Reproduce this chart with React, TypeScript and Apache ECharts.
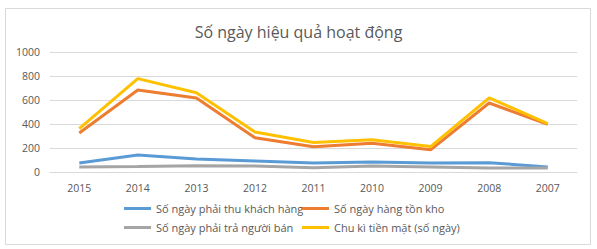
import React, { useEffect, useRef } from "react";
import * as echarts from "echarts";

const years = ["2015", "2014", "2013", "2012", "2011", "2010", "2009", "2008", "2007"];
const receivableDays = [75, 142, 108, 92, 75, 83, 75, 78, 42];
const inventoryDays = [325, 683, 617, 285, 210, 240, 185, 575, 398];
const payableDays = [42, 45, 52, 50, 35, 50, 42, 33, 33];
const cashCycleDays = [362, 778, 660, 333, 245, 268, 212, 618, 404];

const seriesNames = [
  "Số ngày phải thu khách hàng",
  "Số ngày hàng tồn kho",
  "Số ngày phải trả người bán",
  "Chu kì tiền mặt (số ngày)",
];
const colors = ["#5B9BD5", "#ED7D31", "#A5A5A5", "#FFC000"];
const yTicks = { min: 0, max: 1000, interval: 200 };

export default function App() {
  const ref = useRef<HTMLDivElement>(null);
  useEffect(() => {
    if (!ref.current) return;
    const chart = echarts.init(ref.current, null, { renderer: "svg" });
    const data = [receivableDays, inventoryDays, payableDays, cashCycleDays];
    const legendPos = [
      { left: 124, top: 203 },
      { left: 302, top: 203 },
      { left: 124, top: 222 },
      { left: 302, top: 222 },
    ];
    chart.setOption({
      animation: false,
      textStyle: { fontFamily: "'Open Sans', 'Noto Sans', sans-serif" },
      title: {
        text: "Số ngày hiệu quả hoạt động",
        left: "center",
        top: 19,
        textStyle: { fontSize: 16, fontWeight: "normal", color: "#595959" },
      },
      graphic: [
        {
          type: "rect",
          shape: { x: 5.5, y: 8.5, width: 585, height: 236 },
          style: { fill: "none", stroke: "#d9d9d9", lineWidth: 1 },
          silent: true,
        },
      ],
      legend: legendPos.map((p, i) => ({
        data: [seriesNames[i]],
        left: p.left,
        top: p.top,
        padding: 0,
        icon: "rect",
        itemWidth: 27,
        itemHeight: 3,
        itemGap: 0,
        textStyle: { fontSize: 11, color: "#595959" },
      })),
      grid: { left: 50, right: 20, top: 52, bottom: 77 },
      xAxis: {
        type: "category",
        data: years,
        boundaryGap: true,
        axisLine: { lineStyle: { color: "#d9d9d9" } },
        axisTick: { show: false },
        axisLabel: { color: "#595959", fontSize: 10.5, margin: 10 },
      },
      yAxis: {
        type: "value",
        min: yTicks.min,
        max: yTicks.max,
        interval: yTicks.interval,
        axisLine: { show: false },
        axisTick: { show: false },
        axisLabel: {
          color: "#595959",
          fontSize: 10.5,
          margin: 10,
          formatter: (v: number) => String(v),
        },
        splitLine: { lineStyle: { color: "#d9d9d9" } },
      },
      series: data.map((d, i) => ({
        name: seriesNames[i],
        type: "line",
        data: d,
        symbol: "none",
        lineStyle: { color: colors[i], width: 3 },
        itemStyle: { color: colors[i] },
      })),
    });
    return () => chart.dispose();
  }, []);
  return <div ref={ref} style={{ width: 597, height: 249, position: "absolute", left: 0, top: 0 }} />;
}
